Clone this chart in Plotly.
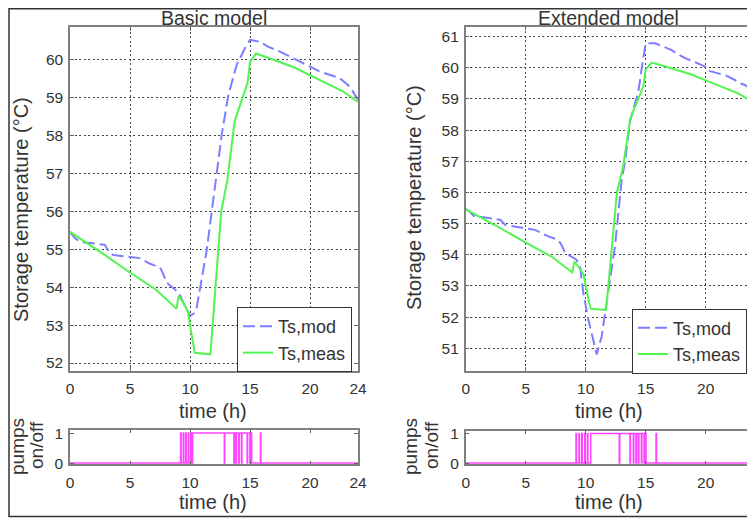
import plotly.graph_objects as go

# ---------------- data ----------------
hour_ticks = [0, 5, 10, 15, 20, 24]
temp_ticks_basic = [52, 53, 54, 55, 56, 57, 58, 59, 60]
temp_ticks_ext = [51, 52, 53, 54, 55, 56, 57, 58, 59, 60, 61]
pump_ticks = [0, 1]

# measured storage temperature (same measurement in both panels)
t_meas = [0, 2.5, 5, 7.2, 8.88, 9.05, 9.5, 9.83, 10.0, 10.4, 11.0, 11.7, 12.6, 13.1,
          13.72, 13.85, 14.2, 14.8, 15.0, 15.5, 16.5, 17.5, 18.7, 19.8, 21.5, 22.7, 24]
T_meas = [55.46, 54.94, 54.39, 53.93, 53.43, 53.78, 53.56, 53.36, 53.0, 52.27, 52.25, 52.23, 56.0, 56.8,
          58.38, 58.5, 58.8, 59.4, 59.95, 60.17, 60.06, 59.95, 59.8, 59.63, 59.37, 59.18, 58.89]

# basic model
t_mod_basic = [0, 0.4, 0.83, 2.5, 2.9, 3.33, 3.6, 5.8, 6.2, 6.67, 7.5, 7.7, 8.06, 8.75, 9.1, 9.44,
               10.0, 10.3, 10.56, 11.39, 11.94, 12.64, 13.19, 13.89, 14.58, 15.0, 15.83, 16.5, 17.22,
               18.33, 19.0, 19.72, 20.83, 21.5, 22.5, 23.33, 23.9, 24]
T_mod_basic = [55.46, 55.3, 55.2, 55.15, 55.12, 54.9, 54.85, 54.77, 54.7, 54.62, 54.52, 54.4, 54.12, 53.93, 53.85, 53.6,
               53.25, 53.3, 53.47, 54.97, 56.3, 58.02, 59.07, 59.87, 60.31, 60.53, 60.48, 60.35, 60.26,
               60.09, 60.0, 59.87, 59.69, 59.62, 59.52, 59.29, 59.03, 58.95]

# extended model
t_mod_ext = [0, 0.3, 0.64, 2.44, 2.9, 3.28, 5.78, 6.3, 6.89, 7.72, 8.0, 8.28, 8.97, 9.2, 9.53, 9.8,
             10.22, 10.92, 11.33, 11.89, 12.44, 13.0, 13.28, 13.69, 14.39, 14.67, 15.0, 15.78, 16.5,
             17.17, 17.6, 18.28, 19.0, 19.94, 20.3, 21.05, 21.7, 22.44, 22.9, 23.28, 23.97, 24]
T_mod_ext = [55.47, 55.4, 55.25, 55.15, 55.12, 54.96, 54.8, 54.7, 54.59, 54.48, 54.3, 54.06, 53.9, 53.85, 53.63, 52.78,
             51.92, 50.8, 51.38, 52.88, 54.27, 56.41, 57.0, 58.28, 59.24, 59.99, 60.79, 60.79, 60.68,
             60.57, 60.45, 60.31, 60.2, 60.04, 59.9, 59.83, 59.75, 59.61, 59.5, 59.45, 59.24, 59.2]

# pump switching times (h)
pump_on_basic = [9.22, 9.44, 9.64, 9.86, 10.06, 10.22, 12.9, 13.7, 13.87, 14.1, 14.33, 14.8, 15.03, 15.87]
pump_off_basic = [9.26, 9.48, 9.68, 9.90, 10.10, 12.86, 13.66, 13.83, 14.06, 14.29, 14.76, 14.99, 15.14, 15.91]
pump_on_ext = [9.19, 9.44, 9.67, 9.92, 10.14, 10.42, 12.84, 13.73, 14.01, 14.23, 14.43, 14.68, 14.9, 15.86]
pump_off_ext = [9.23, 9.48, 9.71, 9.96, 10.18, 12.8, 13.69, 13.97, 14.19, 14.39, 14.64, 14.86, 15.03, 15.9]


def pump_series(on_times, off_times, t_end=24):
    xs, ys = [0], [0]
    for a, b in zip(on_times, off_times):
        xs += [a, a, b, b]
        ys += [0, 1, 1, 0]
    xs.append(t_end)
    ys.append(0)
    return xs, ys


# ---------------- styling ----------------
OFF = 8                      # page offset of the figure (default body margin)
W, H = 755 - OFF, 518 - OFF
FONT = "Liberation Sans, Arial, Helvetica, sans-serif"
TXT = "#333333"
BLUE = "#7d7dff"
GREEN = "#50f550"
MAGENTA = "#ff44ff"


def fx(px):
    return (px - OFF) / W


def fy(py):
    return 1 - (py - OFF) / H


fig = go.Figure()

panels = [
    ("x", "y", "x2", "y2", t_mod_basic, T_mod_basic, pump_on_basic, pump_off_basic, "legend"),
    ("x3", "y3", "x4", "y4", t_mod_ext, T_mod_ext, pump_on_ext, pump_off_ext, "legend2"),
]
for xa, ya, xp, yp, tm, Tm, pon, poff, lg in panels:
    fig.add_trace(go.Scatter(x=tm, y=Tm, mode="lines", name="Ts,mod",
                             line=dict(color=BLUE, width=2, dash="12px,5px"),
                             xaxis=xa, yaxis=ya, legend=lg))
    fig.add_trace(go.Scatter(x=t_meas, y=T_meas, mode="lines", name="Ts,meas",
                             line=dict(color=GREEN, width=2),
                             xaxis=xa, yaxis=ya, legend=lg))
    px_, py_ = pump_series(pon, poff)
    fig.add_trace(go.Scatter(x=px_, y=py_, mode="lines", showlegend=False,
                             line=dict(color=MAGENTA, width=1.5),
                             xaxis=xp, yaxis=yp))

common = dict(ticks="inside", ticklen=4, tickcolor="#666", showline=True, linecolor="#808080",
              linewidth=1.5, mirror="allticks", zeroline=False, automargin=False,
              tickfont=dict(family=FONT, size=15.5, color=TXT))
gridstyle = dict(showgrid=True, gridcolor="#444444", gridwidth=1, griddash="2px,2.5px")

xcommon = dict(common, range=[0, 24], tickmode="array", tickvals=hour_ticks, ticklabelstandoff=3)
ycommon = dict(common, ticklabelstandoff=2)

fig.update_layout(
    width=W, height=H,
    margin=dict(l=0, r=0, t=0, b=0, autoexpand=False),
    paper_bgcolor="white", plot_bgcolor="white",
    font=dict(family=FONT, color=TXT),
    xaxis=dict(xcommon, **gridstyle, domain=[fx(70), fx(358)], anchor="y"),
    yaxis=dict(ycommon, **gridstyle, domain=[fy(371), fy(27)], anchor="x",
               range=[51.79, 60.87], tickmode="array", tickvals=temp_ticks_basic),
    xaxis2=dict(xcommon, showgrid=False, domain=[fx(70), fx(358)], anchor="y2"),
    yaxis2=dict(ycommon, showgrid=False, domain=[fy(464.3), fy(429.5)], anchor="x2",
                range=[-0.04, 1.12], tickmode="array", tickvals=pump_ticks),
    xaxis3=dict(xcommon, **gridstyle, domain=[fx(465.7), fx(753.7)], anchor="y3"),
    yaxis3=dict(ycommon, **gridstyle, domain=[fy(370.7), fy(26.7)], anchor="x3",
                range=[50.28, 61.32], tickmode="array", tickvals=temp_ticks_ext),
    xaxis4=dict(xcommon, showgrid=False, domain=[fx(465.7), fx(753.7)], anchor="y4"),
    yaxis4=dict(ycommon, showgrid=False, domain=[fy(464.3), fy(430.5)], anchor="x4",
                range=[-0.04, 1.1], tickmode="array", tickvals=pump_ticks),
    legend=dict(x=fx(352), y=fy(372), xanchor="right", yanchor="bottom",
                bgcolor="white", bordercolor="#333", borderwidth=1,
                font=dict(family=FONT, size=18, color=TXT), tracegroupgap=0),
    legend2=dict(x=fx(747), y=fy(373.5), xanchor="right", yanchor="bottom",
                 bgcolor="white", bordercolor="#333", borderwidth=1,
                 font=dict(family=FONT, size=18, color=TXT), tracegroupgap=0),
)

annots = [
    ("Basic model", 214, 17.5, 0, 19.5),
    ("Extended model", 608, 17.5, 0, 19.5),
    ("time (h)", 213, 411, 0, 20),
    ("time (h)", 213, 502, 0, 20),
    ("time (h)", 609, 411, 0, 20),
    ("time (h)", 609, 502, 0, 20),
    ("Storage temperature (°C)", 21, 210, -90, 20),
    ("Storage temperature (°C)", 414, 198, -90, 20),
    ("pumps", 17, 447, -90, 19),
    ("on/off", 36, 445, -90, 19),
    ("pumps", 410, 447, -90, 19),
    ("on/off", 431, 445, -90, 19),
]
for text, ax_, ay_, ang, sz in annots:
    fig.add_annotation(text=text, x=fx(ax_), y=fy(ay_), xref="paper", yref="paper",
                       xanchor="center", yanchor="middle", showarrow=False, textangle=ang,
                       font=dict(family=FONT, size=sz, color=TXT))

# outer frame of the figure image
fig.add_shape(type="rect", xref="paper", yref="paper",
              x0=fx(9), y0=fy(516.5), x1=1.05, y1=fy(8.75),
              line=dict(color="#333", width=1.5), fillcolor="rgba(0,0,0,0)", layer="above")

fig.write_html("out.html")
